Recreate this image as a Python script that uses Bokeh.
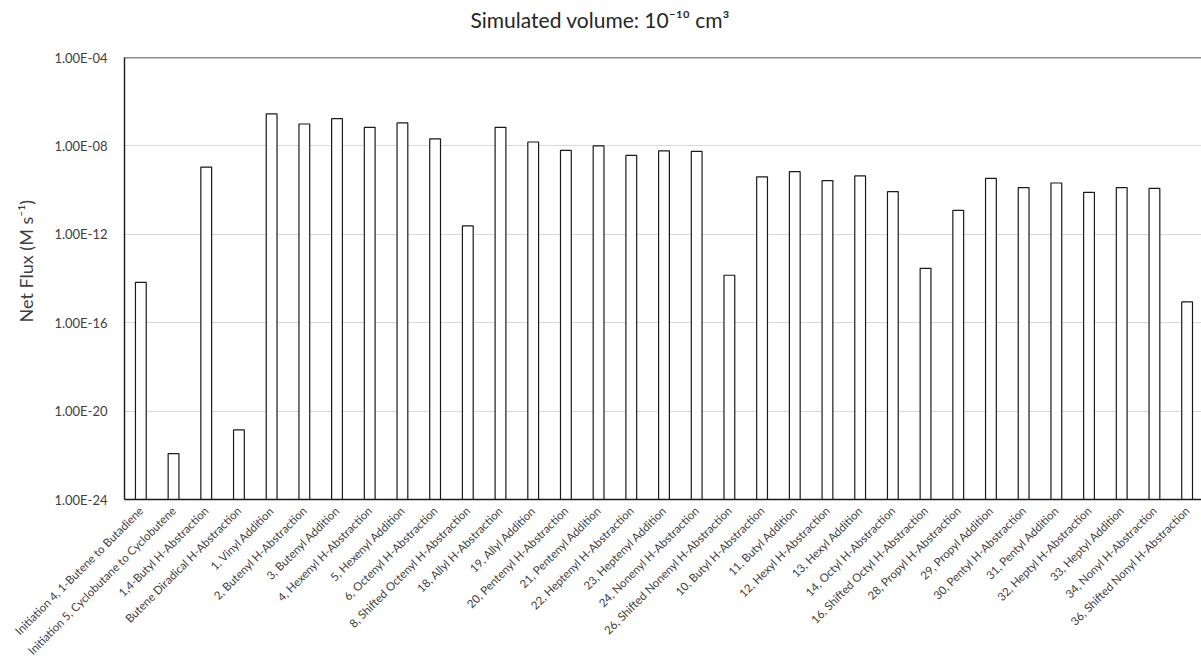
import math
from bokeh.plotting import figure
from bokeh.models import ColumnDataSource, FixedTicker, Range1d, Span, Title
from bokeh.embed import file_html
from bokeh.resources import INLINE

# Reaction channels along the category axis
reactions = [
    "Initiation 4, 1-Butene to Butadiene",
    "Initiation 5, Cyclobutane to Cyclobutene",
    "1,4-Butyl H-Abstraction",
    "Butene Diradical H-Abstraction",
    "1, Vinyl Addition",
    "2, Butenyl H-Abstraction",
    "3, Butenyl Addition",
    "4, Hexenyl H-Abstraction",
    "5, Hexenyl Addition",
    "6, Octenyl H-Abstraction",
    "8, Shifted Octenyl H-Abstraction",
    "18, Allyl H-Abstraction",
    "19, Allyl Addition",
    "20, Pentenyl H-Abstraction",
    "21, Pentenyl Addition",
    "22, Heptenyl H-Abstraction",
    "23, Heptenyl Addition",
    "24, Nonenyl H-Abstraction",
    "26, Shifted Nonenyl H-Abstraction",
    "10, Butyl H-Abstraction",
    "11, Butyl Addition",
    "12, Hexyl H-Abstraction",
    "13, Hexyl Addition",
    "14, Octyl H-Abstraction",
    "16, Shifted Octyl H-Abstraction",
    "28, Propyl H-Abstraction",
    "29, Propyl Addition",
    "30, Pentyl H-Abstraction",
    "31, Pentyl Addition",
    "32, Heptyl H-Abstraction",
    "33, Heptyl Addition",
    "34, Nonyl H-Abstraction",
    "36, Shifted Nonyl H-Abstraction",
]

# Net flux of each channel (M s^-1)
net_flux = [
    6.7e-15, 1.2e-22, 1.1e-9, 1.4e-21, 2.8e-7, 9.8e-8, 1.7e-7, 6.9e-8,
    1.1e-7, 2.1e-8, 2.4e-12, 6.9e-8, 1.5e-8, 6.3e-9, 1.0e-8, 3.7e-9,
    6.0e-9, 5.6e-9, 1.4e-14, 4.0e-10, 6.8e-10, 2.7e-10, 4.4e-10, 8.5e-11,
    2.9e-14, 1.2e-11, 3.4e-10, 1.3e-10, 2.1e-10, 7.9e-11, 1.3e-10, 1.2e-10,
    8.7e-16,
]

y_ticks = [1e-24, 1e-20, 1e-16, 1e-12, 1e-8, 1e-4]
y_tick_labels = ["1.00E-24", "1.00E-20", "1.00E-16", "1.00E-12", "1.00E-08", "1.00E-04"]

title_text = "Simulated volume: 10\u207b\u00b9\u2070 cm\u00b3"
y_label_text = "Net Flux (M s\u207b\u00b9)"

FLOOR = 1e-24
FONT = "Lato"
TEXT = "#404040"

positions = list(range(len(reactions)))
source = ColumnDataSource(dict(x=positions, top=net_flux, bottom=[FLOOR] * len(net_flux)))

p = figure(
    width=1201, height=665,
    y_axis_type="log",
    x_range=Range1d(-0.5, 32.44),
    y_range=Range1d(FLOOR, 1e-4),
    output_backend="svg", toolbar_location=None,
    min_border_left=124, min_border_right=0,
    min_border_top=57, min_border_bottom=166,
    background_fill_color="white", border_fill_color="white",
)
p.outline_line_color = None

p.vbar(x="x", top="top", bottom="bottom", width=0.33, source=source,
       fill_color="white", line_color="#1a1a1a", line_width=1.2)

# top edge of the plot area
p.add_layout(Span(location=1e-4, dimension="width", line_color="#1a1a1a", line_width=1.4))

# gap between the frame and the chart title
p.add_layout(Title(text=" ", text_font_size="1px", standoff=22), "above")
# chart title
p.add_layout(Title(
    text=title_text, text_font=FONT, text_font_size="21px",
    text_font_style="normal", text_color="#262626",
    align="left", offset=346, standoff=0, vertical_align="middle",
), "above")

# x axis
xa = p.xaxis[0]
xa.ticker = FixedTicker(ticks=positions, minor_ticks=[])
xa.major_label_overrides = {i: name for i, name in enumerate(reactions)}
xa.major_label_orientation = math.pi / 4
xa.major_label_text_font = FONT
xa.major_label_text_font_size = "11.5px"
xa.major_label_text_color = TEXT
xa.major_label_standoff = 3
xa.major_tick_line_color = None
xa.minor_tick_line_color = None
xa.axis_line_color = "#1a1a1a"
xa.axis_line_width = 1.4

# y axis
ya = p.yaxis[0]
ya.ticker = FixedTicker(ticks=y_ticks, minor_ticks=[])
ya.major_label_overrides = {t: lab for t, lab in zip(y_ticks, y_tick_labels)}
ya.major_label_text_font = FONT
ya.major_label_text_font_size = "13px"
ya.major_label_text_color = TEXT
ya.major_label_standoff = 11
ya.major_tick_line_color = None
ya.minor_tick_line_color = None
ya.axis_line_color = "#1a1a1a"
ya.axis_line_width = 1.4

# vertical axis title, set outside the tick labels
p.add_layout(Title(
    text=y_label_text, text_font=FONT, text_font_size="18px",
    text_font_style="normal", text_color=TEXT,
    align="left", offset=177, standoff=26, vertical_align="top",
), "left")

p.xgrid.grid_line_color = None
p.ygrid.ticker = FixedTicker(ticks=y_ticks, minor_ticks=[])
p.ygrid.grid_line_color = "#d9d9d9"
p.ygrid.grid_line_width = 1.2

open("out.html", "w").write(file_html(p, INLINE))
